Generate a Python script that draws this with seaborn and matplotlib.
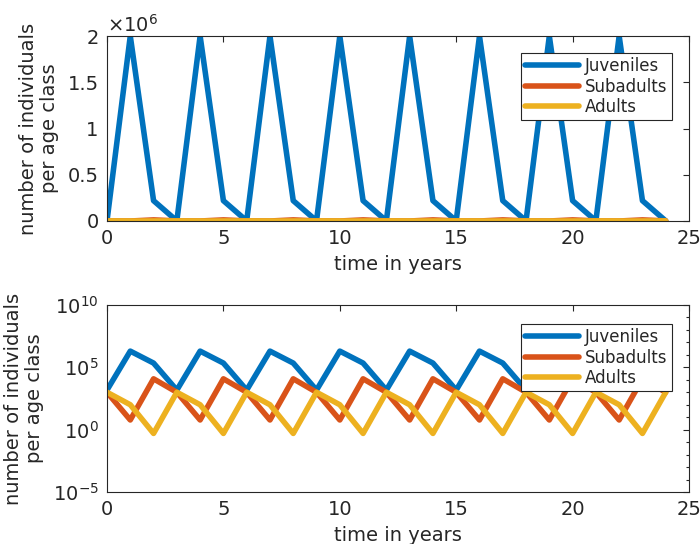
import numpy as np
import pandas as pd
import matplotlib
matplotlib.use("Agg")
import matplotlib.pyplot as plt
import matplotlib.ticker as mticker
import seaborn as sns

years = list(range(25))
juveniles = [1500, 2e6, 2.2e5, 1500, 2e6, 2.2e5, 1500, 2e6, 2.2e5,
             1500, 2e6, 2.2e5, 1500, 2e6, 2.2e5, 1500, 2e6, 2.2e5,
             1500, 2e6, 2.2e5, 1500, 2e6, 2.2e5, 1500]
subadults = [1000, 6, 1.2e4, 1000, 6, 1.2e4, 1000, 6, 1.2e4,
             1000, 6, 1.2e4, 1000, 6, 1.2e4, 1000, 6, 1.2e4,
             1000, 6, 1.2e4, 1000, 6, 1.2e4, 1000]
adults = [1000, 100, 0.5, 1000, 100, 0.5, 1000, 100, 0.5,
          1000, 100, 0.5, 1000, 100, 0.5, 1000, 100, 0.5,
          1000, 100, 0.5, 1000, 100, 0.5, 1000]

series = {"Juveniles": juveniles, "Subadults": subadults, "Adults": adults}
colors = ["#0072BD", "#D95319", "#EDB120"]

df = pd.DataFrame({"year": years, **series}).melt(id_vars="year", var_name="class", value_name="n")

sns.set_style("white")
plt.rcParams["font.family"] = ["DejaVu Sans"]
plt.rcParams["font.size"] = 14
axcol = "#262626"


class PlainSci(mticker.ScalarFormatter):
    def _set_format(self):
        self.format = "%g"


fig = plt.figure(figsize=(7, 5.44), dpi=100)
ax1 = fig.add_axes([107 / 700, 1 - 221 / 544, 582 / 700, 185 / 544])
ax2 = fig.add_axes([107 / 700, 1 - 492 / 544, 582 / 700, 187 / 544])

for ax in (ax1, ax2):
    sns.lineplot(data=df, x="year", y="n", hue="class", palette=colors, linewidth=4,
                 ax=ax, legend=True)
    ax.set_xlim(0, 25)
    ax.set_xticks([0, 5, 10, 15, 20, 25])
    ax.set_xlabel("time in years", fontsize=14, color=axcol, labelpad=5)
    ax.set_ylabel("number of individuals\nper age class", fontsize=14, color=axcol,
                  labelpad=6, linespacing=1.15)
    for s in ax.spines.values():
        s.set_color(axcol)
        s.set_linewidth(0.8)
    ax.tick_params(direction="in", top=True, right=True, length=4, width=0.8,
                   colors=axcol, labelsize=14, pad=6)
    ax.tick_params(which="minor", direction="in", top=True, right=True, length=2.5,
                   width=0.8, colors=axcol)
    leg = ax.legend(loc="upper right", fontsize=12, handlelength=3.2, frameon=True,
                    framealpha=1, fancybox=False, edgecolor=axcol, borderpad=0.25,
                    labelspacing=0.15, handletextpad=0.4, borderaxespad=0.0)
    leg.get_frame().set_linewidth(0.8)

# top: linear scale
ax1.set_ylim(0, 2e6)
ax1.set_yticks([0, 0.5e6, 1e6, 1.5e6, 2e6])
fmt = PlainSci(useMathText=True)
fmt.set_powerlimits((0, 0))
ax1.yaxis.set_major_formatter(fmt)
ax1.yaxis.get_offset_text().set_fontsize(14)
ax1.yaxis.get_offset_text().set_color(axcol)
ax1.legend_.set_bbox_to_anchor((672 / 700, 1 - 53 / 544), transform=fig.transFigure)

# bottom: log scale
ax2.set_yscale("log")
ax2.set_ylim(1e-5, 1e10)
ax2.yaxis.set_major_locator(mticker.FixedLocator([1e-5, 1e0, 1e5, 1e10]))
ax2.yaxis.set_major_formatter(mticker.FuncFormatter(lambda v, p: r"$10^{%d}$" % round(np.log10(v))))
ax2.yaxis.set_minor_locator(mticker.FixedLocator([10.0 ** k for k in range(-5, 11) if k % 5 != 0]))
ax2.yaxis.set_minor_formatter(mticker.NullFormatter())
ax2.legend_.set_bbox_to_anchor((672 / 700, 1 - 324 / 544), transform=fig.transFigure)

fig.savefig("out.png", dpi=100)
